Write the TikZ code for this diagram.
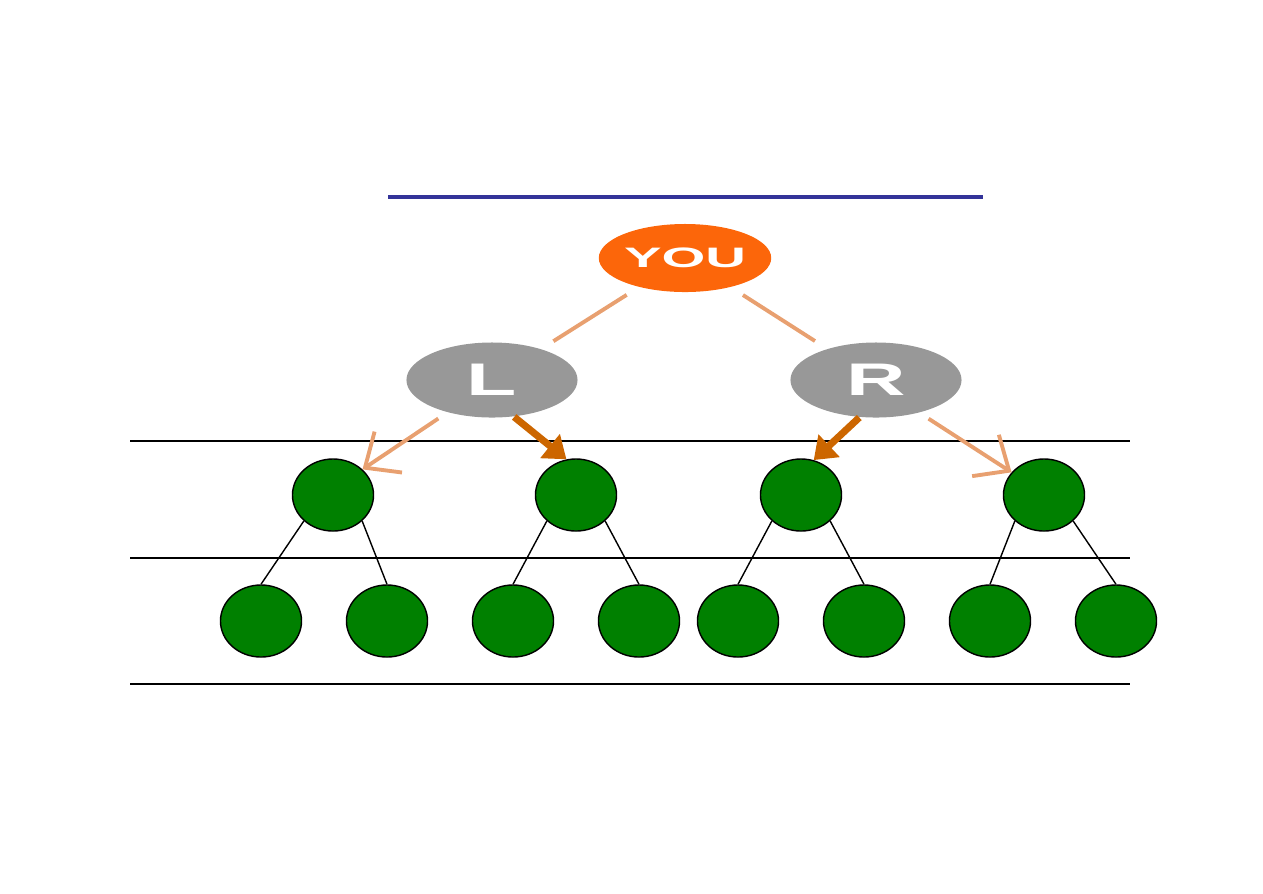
\documentclass[tikz,border=0pt]{standalone}
\usepackage{fontspec}
\setsansfont{Liberation Sans}
\usetikzlibrary{arrows.meta}
\usetikzlibrary{shapes.geometric}
\usetikzlibrary{positioning}

\definecolor{youorange}{RGB}{252,102,10}
\definecolor{nodegray}{RGB}{152,152,152}
\definecolor{fadeorange}{RGB}{232,160,112}
\definecolor{boldorange}{RGB}{204,102,0}
\definecolor{leafgreen}{RGB}{0,128,0}
\definecolor{titleblue}{RGB}{51,51,153}

\begin{document}
\begin{tikzpicture}[x=0.01cm,y=-0.01cm,
        topnode/.style={ellipse,inner sep=0pt,text=white,font=\sffamily\bfseries},
        leaf/.style={ellipse,draw=black,line width=0.4pt,fill=leafgreen,
            minimum width=0.81cm,minimum height=0.72cm,inner sep=0pt},
        fadeline/.style={draw=fadeorange,line width=1.1pt},
        fadearrow/.style={fadeline,-{Straight Barb[length=8pt,width=14pt]}},
        boldarrow/.style={draw=boldorange,line width=2pt,-{Triangle[length=6pt,width=8.5pt]}}]
            \useasboundingbox (0,0) rectangle (1263,893);

            % title rule
            \draw[titleblue,line width=1.4pt] (388,197) -- (983,197);

            % level rules
            \foreach \y in {441,558,684}{
                \draw[line width=0.4pt] (130,\y) -- (1130,\y);
            }

            \node[topnode,fill=youorange,minimum width=1.66cm,minimum height=0.68cm,font=\sffamily\bfseries\fontsize{8}{8}\selectfont] (you) at (685,258) {\scalebox{2}[1]{YOU}};
            \node[topnode,fill=nodegray,minimum width=1.71cm,minimum height=0.75cm,font=\sffamily\bfseries\fontsize{13}{13}\selectfont] (L) at (492,380) {\scalebox{1.8}[1]{L}};
            \node[topnode,fill=nodegray,minimum width=1.71cm,minimum height=0.75cm,font=\sffamily\bfseries\fontsize{13}{13}\selectfont] (R) at (876,380) {\scalebox{1.8}[1]{R}};

            \foreach \i/\x in {1/333,2/576,3/801,4/1044}{
                \node[leaf] (n\i) at (\x,495) {};
            }
            \foreach \i/\x in {1/261,2/387,3/513,4/639,5/738,6/864,7/990,8/1116}{
                \node[leaf] (m\i) at (\x,621) {};
            }

            \draw[fadeline,shorten <=4pt,shorten >=4pt] (you) -- (L);
            \draw[fadeline,shorten <=4pt,shorten >=4pt] (you) -- (R);
            \draw[fadearrow,shorten <=3pt] (L.216) -- (n1.41);
            \draw[fadearrow,shorten <=3pt] (R.-37) -- (n4.145);
            \draw[boldarrow] (L.-59) -- (n2.105);
            \draw[boldarrow] (R.-114) -- (n3.70);

            \foreach \p/\a/\b in {1/1/2,2/3/4,3/5/6,4/7/8}{
                \draw[line width=0.4pt] (n\p.south west) -- (m\a.north);
                \draw[line width=0.4pt] (n\p.south east) -- (m\b.north);
            }
        \end{tikzpicture}
\end{document}
